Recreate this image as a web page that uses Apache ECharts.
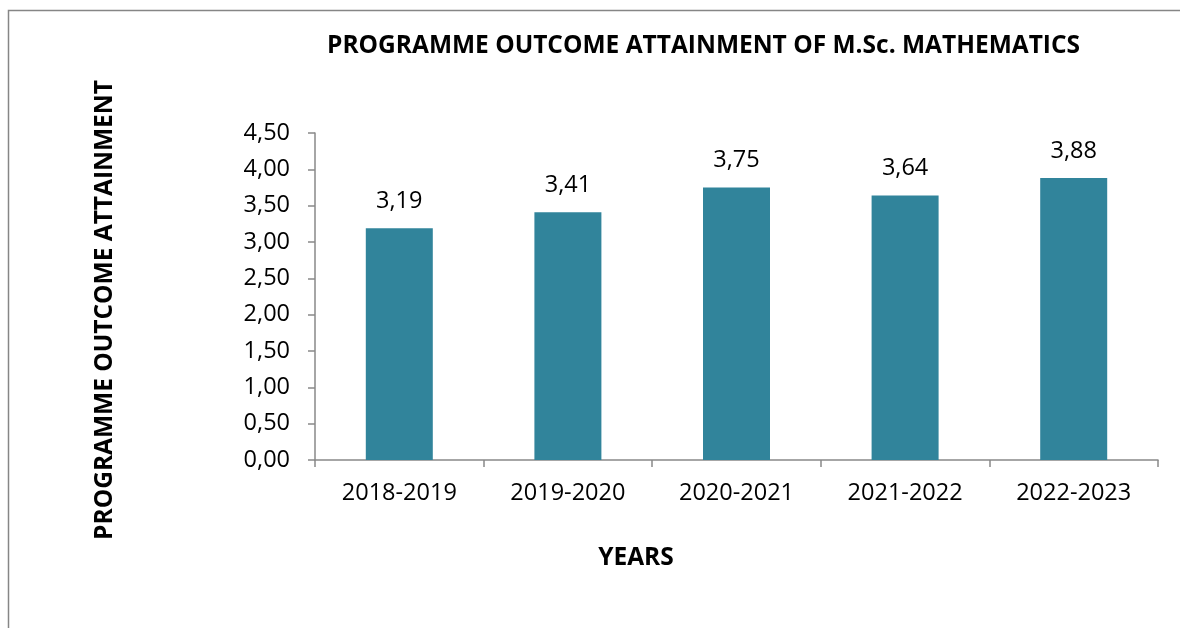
<!DOCTYPE html>
<html>
<head>
<meta charset="utf-8">
<title>Programme Outcome Attainment</title>
<script src="https://cdn.jsdelivr.net/npm/echarts@6/dist/echarts.min.js"></script>
<style>
  html, body { margin: 0; padding: 0; background: #fff; }
  #chart { width: 1180px; height: 628px; }
</style>
</head>
<body>
<div id="chart"></div>
<script>
const years = ['2018-2019', '2019-2020', '2020-2021', '2021-2022', '2022-2023']
const attainment = [3.19, 3.41, 3.75, 3.64, 3.88]
const yMin = 0
const yMax = 4.5
const yStep = 0.5

const fontFamily = '"Open Sans", "Liberation Sans", sans-serif'
// decimal comma like the original sheet
const comma = (v) => Number(v).toFixed(2).replace('.', ',')

const chart = echarts.init(document.getElementById('chart'))
chart.setOption({
  animation: false,
  textStyle: { fontFamily: fontFamily },
  title: {
    text: 'PROGRAMME OUTCOME ATTAINMENT OF M.Sc. MATHEMATICS',
    left: 322,
    top: 29,
    textStyle: { fontSize: 24.5, fontWeight: 'bold', color: '#000', fontFamily: fontFamily }
  },
  graphic: [
    {
      type: 'rect',
      shape: { x: 8.5, y: 10.5, width: 1300, height: 800 },
      style: { fill: 'none', stroke: '#868686', lineWidth: 1.5 },
      silent: true
    },
    {
      type: 'text',
      x: 105,
      y: 310,
      rotation: Math.PI / 2,
      style: {
        text: 'PROGRAMME OUTCOME ATTAINMENT',
        fontSize: 24.5,
        fontWeight: 'bold',
        fontFamily: fontFamily,
        fill: '#000',
        align: 'center',
        verticalAlign: 'middle'
      }
    },
    {
      type: 'text',
      x: 636,
      y: 558,
      style: {
        text: 'YEARS',
        fontSize: 24.5,
        fontWeight: 'bold',
        fontFamily: fontFamily,
        fill: '#000',
        align: 'center',
        verticalAlign: 'middle'
      }
    }
  ],
  grid: {
    left: 315,
    right: 22,
    top: 133,
    bottom: 168
  },
  xAxis: {
    type: 'category',
    data: years,
    boundaryGap: true,
    axisLine: { lineStyle: { color: '#898989', width: 1.5 } },
    axisTick: { show: true, alignWithLabel: false, length: 7, lineStyle: { color: '#898989', width: 1.5 } },
    axisLabel: { color: '#000', fontSize: 23.5, margin: 21 },
    splitLine: { show: false }
  },
  yAxis: {
    type: 'value',
    min: yMin,
    max: yMax,
    interval: yStep,
    axisLine: { show: true, lineStyle: { color: '#898989', width: 1.5 } },
    axisTick: { show: true, length: 7, lineStyle: { color: '#898989', width: 1.5 } },
    axisLabel: { color: '#000', fontSize: 23.5, margin: 25, formatter: comma },
    splitLine: { show: false }
  },
  series: [{
    type: 'bar',
    data: attainment,
    barWidth: 67,
    itemStyle: { color: '#31849B' },
    label: {
      show: true,
      position: 'top',
      distance: 15,
      color: '#000',
      fontSize: 23.5,
      formatter: (p) => comma(p.value)
    }
  }]
})
</script>
</body>
</html>
